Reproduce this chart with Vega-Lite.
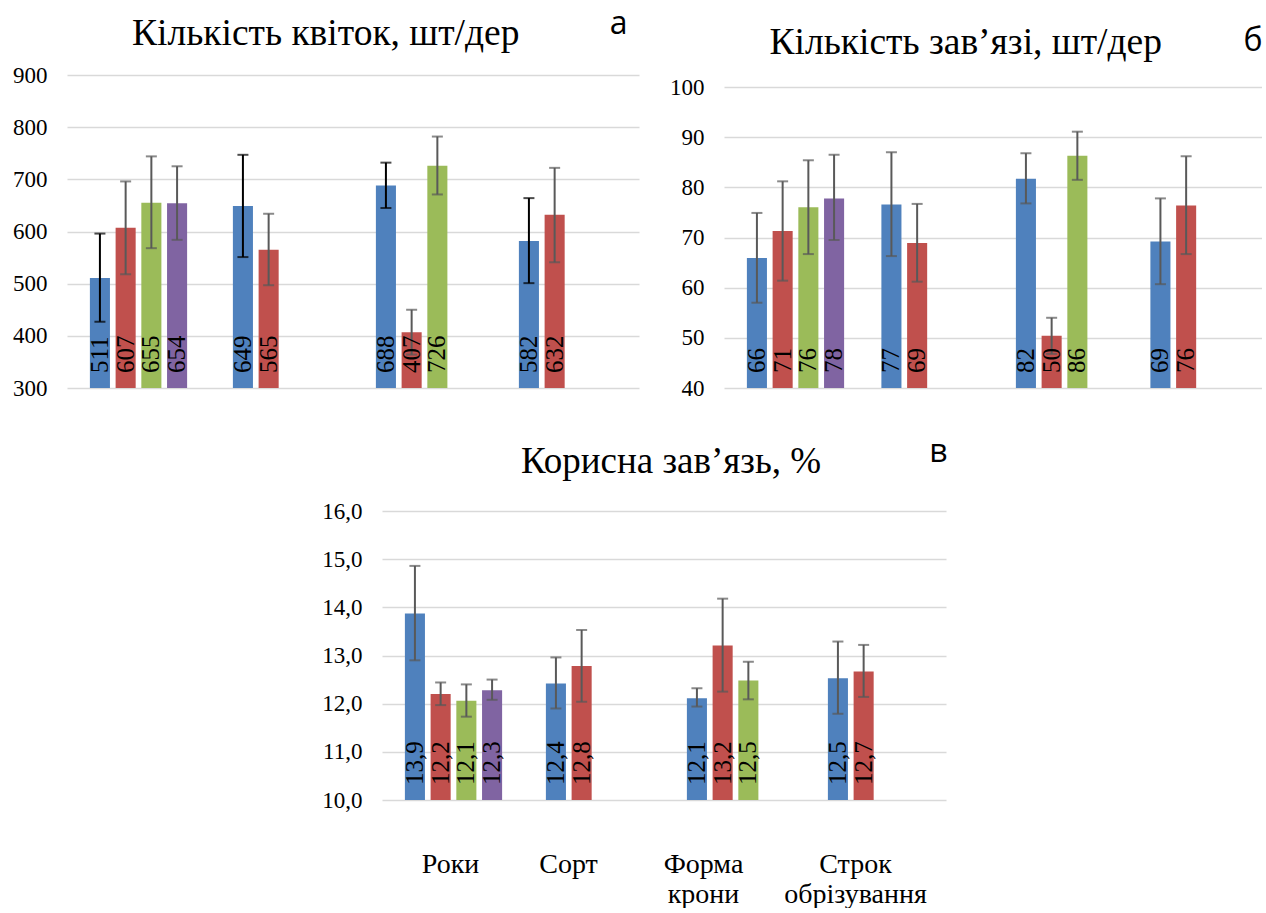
{
  "$schema": "https://vega.github.io/schema/vega-lite/v6.json",
  "background": "white",
  "padding": {"left": 12, "top": 7, "right": 0, "bottom": 0},
  "datasets": {
    "a": [
      {"g": "Роки", "s": "1", "v": 511, "lo": 427, "hi": 596},
      {"g": "Роки", "s": "2", "v": 607, "lo": 518, "hi": 696},
      {"g": "Роки", "s": "3", "v": 655, "lo": 568, "hi": 744},
      {"g": "Роки", "s": "4", "v": 654, "lo": 584, "hi": 725},
      {"g": "Сорт", "s": "1", "v": 649, "lo": 551, "hi": 747},
      {"g": "Сорт", "s": "2", "v": 565, "lo": 497, "hi": 634},
      {"g": "Форма крони", "s": "1", "v": 688, "lo": 645, "hi": 732},
      {"g": "Форма крони", "s": "2", "v": 407, "lo": 364, "hi": 450},
      {"g": "Форма крони", "s": "3", "v": 726, "lo": 671, "hi": 782},
      {"g": "Строк обрізування", "s": "1", "v": 582, "lo": 501, "hi": 664},
      {"g": "Строк обрізування", "s": "2", "v": 632, "lo": 541, "hi": 722}
    ],
    "b": [
      {"g": "Роки", "s": "1", "v": 65.9, "lo": 57.0, "hi": 74.9},
      {"g": "Роки", "s": "2", "v": 71.3, "lo": 61.4, "hi": 81.2},
      {"g": "Роки", "s": "3", "v": 76.05, "lo": 66.7, "hi": 85.4},
      {"g": "Роки", "s": "4", "v": 77.8, "lo": 69.5, "hi": 86.5},
      {"g": "Сорт", "s": "1", "v": 76.6, "lo": 66.3, "hi": 87.0},
      {"g": "Сорт", "s": "2", "v": 68.9, "lo": 61.2, "hi": 76.7},
      {"g": "Форма крони", "s": "1", "v": 81.7, "lo": 76.8, "hi": 86.8},
      {"g": "Форма крони", "s": "2", "v": 50.4, "lo": 46.8, "hi": 54.0},
      {"g": "Форма крони", "s": "3", "v": 86.3, "lo": 81.5, "hi": 91.1},
      {"g": "Строк обрізування", "s": "1", "v": 69.2, "lo": 60.7, "hi": 77.8},
      {"g": "Строк обрізування", "s": "2", "v": 76.4, "lo": 66.7, "hi": 86.2}
    ],
    "c": [
      {"g": "Роки", "s": "1", "v": 13.87, "lo": 12.90, "hi": 14.86},
      {"g": "Роки", "s": "2", "v": 12.20, "lo": 11.97, "hi": 12.44},
      {"g": "Роки", "s": "3", "v": 12.06, "lo": 11.73, "hi": 12.40},
      {"g": "Роки", "s": "4", "v": 12.28, "lo": 12.08, "hi": 12.50},
      {"g": "Сорт", "s": "1", "v": 12.42, "lo": 11.90, "hi": 12.96},
      {"g": "Сорт", "s": "2", "v": 12.78, "lo": 12.04, "hi": 13.53},
      {"g": "Форма крони", "s": "1", "v": 12.11, "lo": 11.94, "hi": 12.32},
      {"g": "Форма крони", "s": "2", "v": 13.21, "lo": 12.25, "hi": 14.18},
      {"g": "Форма крони", "s": "3", "v": 12.48, "lo": 12.09, "hi": 12.87},
      {"g": "Строк обрізування", "s": "1", "v": 12.53, "lo": 11.79, "hi": 13.29},
      {"g": "Строк обрізування", "s": "2", "v": 12.67, "lo": 12.14, "hi": 13.22}
    ]
  },
  "spacing": 35,
  "center": true,
  "vconcat": [
    {
      "spacing": 30,
      "hconcat": [
        {
          "width": 572,
          "height": 313,
          "data": {"name": "a"},
          "title": {"text": "Кількість квіток, шт/дер", "offset": -45, "frame": "bounds", "fontSize": 37.5},
          "encoding": {
            "x": {"field": "g", "type": "nominal", "sort": ["Роки", "Сорт", "Форма крони", "Строк обрізування"], "scale": {"paddingInner": 0, "paddingOuter": 0}, "axis": null},
            "xOffset": {"field": "s", "type": "nominal", "sort": ["1", "2", "3", "4"], "scale": {"domain": ["1", "2", "3", "4"], "paddingInner": 0.22, "paddingOuter": 0.89}}
          },
          "layer": [
            {
              "mark": {"type": "bar"},
              "encoding": {
                "y": {"field": "v", "type": "quantitative", "stack": null, "scale": {"domain": [300, 900], "nice": false, "zero": false},
                  "axis": {"values": [300, 400, 500, 600, 700, 800, 900], "format": "d", "title": "а", "titleX": 560, "titleY": -42, "titleAngle": 0, "titleAlign": "right", "titleBaseline": "alphabetic", "titleFont": "Open Sans", "titleFontSize": 32, "titleFontWeight": "normal", "titleColor": "#000000"}},
                "color": {"field": "s", "type": "nominal", "scale": {"domain": ["1", "2", "3", "4"], "range": ["#4F81BD", "#C0504D", "#9BBB59", "#8064A2"]}, "legend": null}
              }
            },
            {
              "mark": {"type": "rule", "strokeWidth": 2},
              "encoding": {
                "y": {"field": "lo", "type": "quantitative"},
                "y2": {"field": "hi"},
                "color": {"condition": {"test": "datum.s == '1'", "value": "#000000"}, "value": "#595959"}
              }
            },
            {
              "mark": {"type": "tick", "thickness": 2, "size": 11},
              "encoding": {
                "y": {"field": "lo", "type": "quantitative"},
                "color": {"condition": {"test": "datum.s == '1'", "value": "#000000"}, "value": "#595959"}
              }
            },
            {
              "mark": {"type": "tick", "thickness": 2, "size": 11},
              "encoding": {
                "y": {"field": "hi", "type": "quantitative"},
                "color": {"condition": {"test": "datum.s == '1'", "value": "#000000"}, "value": "#595959"}
              }
            },
            {
              "mark": {"type": "text", "angle": 270, "align": "left", "baseline": "middle", "dx": 15, "font": "Liberation Serif", "fontSize": 25, "color": "#000000"},
              "encoding": {
                "y": {"datum": 300, "type": "quantitative"},
                "text": {"field": "v", "type": "quantitative", "format": ".0f"}
              }
            }
          ]
        },
        {
          "width": 538,
          "height": 313,
          "data": {"name": "b"},
          "title": {"text": "Кількість зав’язі, шт/дер", "offset": -37, "frame": "bounds", "fontSize": 37.5},
          "encoding": {
            "x": {"field": "g", "type": "nominal", "sort": ["Роки", "Сорт", "Форма крони", "Строк обрізування"], "scale": {"paddingInner": 0, "paddingOuter": 0}, "axis": null},
            "xOffset": {"field": "s", "type": "nominal", "sort": ["1", "2", "3", "4"], "scale": {"domain": ["1", "2", "3", "4"], "paddingInner": 0.22, "paddingOuter": 0.89}}
          },
          "layer": [
            {
              "mark": {"type": "bar"},
              "encoding": {
                "y": {"field": "v", "type": "quantitative", "stack": null, "scale": {"domain": [40, 102.4], "nice": false, "zero": false},
                  "axis": {"values": [40, 50, 60, 70, 80, 90, 100], "format": "d", "title": "б", "titleX": 538, "titleY": -25, "titleAngle": 0, "titleAlign": "right", "titleBaseline": "alphabetic", "titleFont": "Open Sans", "titleFontSize": 32, "titleFontWeight": "normal", "titleColor": "#000000"}},
                "color": {"field": "s", "type": "nominal", "scale": {"domain": ["1", "2", "3", "4"], "range": ["#4F81BD", "#C0504D", "#9BBB59", "#8064A2"]}, "legend": null}
              }
            },
            {
              "mark": {"type": "rule", "strokeWidth": 2, "color": "#595959"},
              "encoding": {
                "y": {"field": "lo", "type": "quantitative"},
                "y2": {"field": "hi"}
              }
            },
            {
              "mark": {"type": "tick", "thickness": 2, "size": 11, "color": "#595959"},
              "encoding": {
                "y": {"field": "lo", "type": "quantitative"}
              }
            },
            {
              "mark": {"type": "tick", "thickness": 2, "size": 11, "color": "#595959"},
              "encoding": {
                "y": {"field": "hi", "type": "quantitative"}
              }
            },
            {
              "mark": {"type": "text", "angle": 270, "align": "left", "baseline": "middle", "dx": 15, "font": "Liberation Serif", "fontSize": 25, "color": "#000000"},
              "encoding": {
                "y": {"datum": 40, "type": "quantitative"},
                "text": {"field": "v", "type": "quantitative", "format": ".0f"}
              }
            }
          ]
        }
      ]
    },
    {
      "width": 564,
      "height": 289,
      "data": {"name": "c"},
      "title": {"text": "Корисна зав’язь, %", "offset": -46, "frame": "group", "dx": 7},
      "encoding": {
        "x": {"field": "g", "type": "nominal", "sort": ["Роки", "Сорт", "Форма крони", "Строк обрізування"], "scale": {"paddingInner": 0, "paddingOuter": 0},
          "axis": {"orient": "bottom", "title": null, "labelExpr": "split(datum.value, ' ')", "labelFontSize": 28, "labelPadding": 50, "labelLineHeight": 30, "labelAngle": 0, "labelBaseline": "top", "grid": false,
            "labelOffset": {"condition": [{"test": "datum.value === 'Сорт'", "value": -25}, {"test": "datum.value === 'Форма крони'", "value": -31}, {"test": "datum.value === 'Строк обрізування'", "value": -20}], "value": -2}}},
        "xOffset": {"field": "s", "type": "nominal", "sort": ["1", "2", "3", "4"], "scale": {"domain": ["1", "2", "3", "4"], "paddingInner": 0.22, "paddingOuter": 0.89}}
      },
      "layer": [
        {
          "mark": {"type": "bar"},
          "encoding": {
            "y": {"field": "v", "type": "quantitative", "stack": null, "scale": {"domain": [10, 16], "nice": false, "zero": false},
              "axis": {"values": [10, 11, 12, 13, 14, 15, 16], "format": ".1f", "title": "в", "titleX": 565, "titleY": -50, "titleAngle": 0, "titleAlign": "right", "titleBaseline": "alphabetic", "titleFont": "Open Sans", "titleFontSize": 32, "titleFontWeight": "normal", "titleColor": "#000000"}},
            "color": {"field": "s", "type": "nominal", "scale": {"domain": ["1", "2", "3", "4"], "range": ["#4F81BD", "#C0504D", "#9BBB59", "#8064A2"]}, "legend": null}
          }
        },
        {
          "mark": {"type": "rule", "strokeWidth": 2, "color": "#595959"},
          "encoding": {
            "y": {"field": "lo", "type": "quantitative"},
            "y2": {"field": "hi"}
          }
        },
        {
          "mark": {"type": "tick", "thickness": 2, "size": 11, "color": "#595959"},
          "encoding": {
            "y": {"field": "lo", "type": "quantitative"}
          }
        },
        {
          "mark": {"type": "tick", "thickness": 2, "size": 11, "color": "#595959"},
          "encoding": {
            "y": {"field": "hi", "type": "quantitative"}
          }
        },
        {
          "mark": {"type": "text", "angle": 270, "align": "left", "baseline": "middle", "dx": 15, "font": "Liberation Serif", "fontSize": 25, "color": "#000000"},
          "encoding": {
            "y": {"datum": 10, "type": "quantitative"},
            "text": {"field": "v", "type": "quantitative", "format": ".1f"}
          }
        }
      ]
    }
  ],
  "config": {
    "locale": {"number": {"decimal": ",", "thousands": " ", "grouping": [3], "currency": ["", ""]}},
    "view": {"stroke": null},
    "axis": {"labelFont": "Liberation Serif", "labelFontSize": 23, "labelColor": "#000000", "ticks": false, "domain": false, "gridColor": "#D9D9D9", "gridWidth": 1.5, "labelPadding": 20},
    "axisY": {"grid": true},
    "title": {"font": "Liberation Serif", "fontSize": 37, "fontWeight": "normal", "color": "#000000", "anchor": "middle", "baseline": "alphabetic"}
  }
}
